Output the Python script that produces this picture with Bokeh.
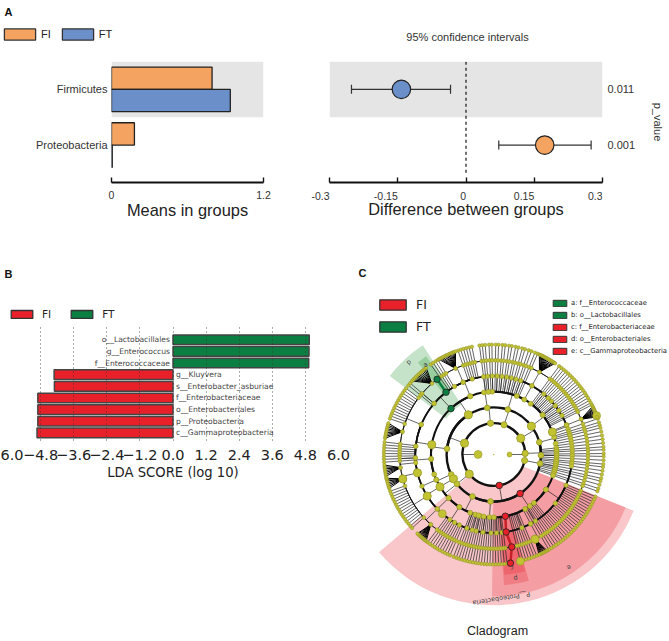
import math
from bokeh.embed import file_html
from bokeh.resources import INLINE
from bokeh.models import (ColumnDataSource, FixedTicker, Label, Legend, LegendItem,
                          Range1d, TeeHead, Whisker)
from bokeh.plotting import figure
from bokeh.core.properties import value

# ---------- Panel A data ----------
phyla = ["Proteobacteria", "Firmicutes"]
mean_fi = [0.181, 0.794]
mean_ft = [0.006, 0.938]
diff_mean = [0.173, -0.142]
diff_low = [0.072, -0.2517]
diff_high = [0.275, -0.034]
p_values = ["0.001", "0.011"]
mean_ticks = [0, 1.2]
mean_tick_labels = ["0", "1.2"]
diff_ticks = [-0.3, -0.15, 0, 0.15, 0.3]
diff_tick_labels = ["-0.3", "-0.15", "0", "0.15", "0.3"]

# ---------- Panel B data ----------
lda_names = ["o__Lactobacillales", "g__Enterococcus", "f__Enterococcaceae", "g__Kluyvera",
             "s__Enterobacter_asburiae", "f__Enterobacteriaceae", "o__Enterobacteriales",
             "p__Proteobacteria", "c__Gammaproteobacteria"]
lda_scores = [4.94, 4.93, 4.92, -4.31, -4.30, -4.90, -4.90, -4.90, -4.93]
lda_ticks = [-6.0, -4.8, -3.6, -2.4, -1.2, 0.0, 1.2, 2.4, 3.6, 4.8, 6.0]
lda_tick_labels = ["6.0", "\u22124.8", "\u22123.6", "\u22122.4", "\u22121.2", "0.0", "1.2", "2.4", "3.6", "4.8", "6.0"]

# ---------- Panel C data: (parent level, parent angle, child angles) in degrees ----------
branches = [
    (1, 180, [2, 31, 71, 96, 159, 218.6, 280, 349]), (1, 0, [2]),
    (2, 2, [15, -1]), (2, 349, [349]), (2, 31, [37]), (2, 71, [72.7]), (2, 96, [98]),
    (2, 159, [173, 122.7]), (2, 218.6, [205, 211, 218.6]), (2, 280, [243, 266, 304]),
    (3, 15, [16, 10]), (3, -1, [-6.4, 3]), (3, 349, [345, 351]),
    (3, 37, [54, 39, 21]), (3, 72.7, [91.5, 68.6, 61]), (3, 98, [99, 95]),
    (3, 122.7, [133, 112]), (3, 173, [171, 184, 198.4]), (3, 205, [203.8]), (3, 211, [211]),
    (3, 218.6, [224, 236.7]), (3, 243, [248, 253, 257, 260.8]), (3, 266, [256, 266, 270]),
    (3, 304, [280.6, 300, 305, 309.7, 326]),
    (4, 326, [337, 321.6]), (4, 112, [120, 113, 106]), (4, 133, [127.5, 139.5]),
    (4, 171, [157.6, 174]), (4, 184, [174, 182.5, 193.5]), (4, 203.8, [203.8]), (4, 211, [212]),
    (4, 224, [224]), (4, 236.7, [229, 236, 240, 244]), (4, 39, [42.8, 29.7]), (4, 21, [14, 22]),
    (5, 212, [222, 199.5]), (5, 193.5, [195]), (5, 182.5, [180.6]), (5, 157.6, [161, 143, 166]),
    (5, 139.5, [140]), (5, 113, [114]), (5, 61, [61]), (5, 224, [228]), (5, 298, [296]),
    (5, 22, [22]), (5, 186, [188]),
]
chains = [
    ((4, 6, 7), [97.5, 96, 94.5, 92.5, 91, 89, 87.5, 85.5, 84, 82, 80.5, 78.5, 77, 75, 73.5, 71.5, 70, 68, 66.5]),
    ((4, 5), [97.5, 94.5, 91, 87.5, 84, 80.5, 77, 73.5, 70]),
    ((4, 5), [61, 22, 298]),
    ((4, 6, 7), [53.5, 52, 50.5, 49, 47.5, 46, 44.5, 43, 41.5, 40, 38.5, 37, 35.5, 34, 32.5, 31, 29.5, 28, 26.8]),
    ((4, 5), [50.5, 46, 38.5, 34]),
    ((4, 5, 6, 7), [19, 17, 15.5, 14, 12, 10, 8]),
    ((3, 4, 5, 6, 7), [6, 4, 2.5, 0.5, -1, -3, -5, -6.5, -8.5]),
    ((3, 4, 6, 7), [-10.5, -12.5, -14, -16, -18, -19.5]),
    ((5, 6, 7), [337.5, 336, 334.5, 333, 331.5, 330, 328.5, 327, 325.5, 324, 322.5, 321, 319.5, 318, 316.5, 315, 313.5, 312]),
    ((4, 6, 7), [310.5, 309, 307.5, 306, 304.5, 303, 301.5, 300]),
    ((4, 6, 7), [293, 291.5, 290, 288.5, 287, 285.5, 284]),
    ((4, 5), [302, 291]),
    ((4, 6, 7), [277, 275.5, 274, 272.5, 271, 269.5, 268, 266.5, 265, 263.5, 262, 260.5, 259, 257.5, 256, 254.5, 253, 251.5, 250, 248.5]),
    ((4, 5), [276, 272, 268, 262, 257, 254, 250]),
    ((5, 6, 7), [246.5, 245, 243.5, 242, 240.5, 239, 237.5, 236, 234.5, 233]),
    ((6, 7), [222, 220.5, 219, 217.5, 216, 214.5, 213, 211.5, 210, 208.5, 207, 205.5, 204, 202.5, 201, 199.5]),
    ((5, 6, 7), [184, 182.5, 181, 179.5, 178, 176.5, 175, 173.5]),
    ((6, 7), [161, 159.5, 158, 156.5, 155, 153.5, 152, 150.5, 149, 147.5, 146, 144.5, 143]),
    ((5, 6, 7), [141, 139.5, 125, 123.5, 122, 120.5, 109, 107.5, 106, 104.5, 103, 101.5]),
]
fans = [
    (6, 61, [65.5, 64.8, 64, 63.3, 62.6, 61.9, 61.2, 60.5, 59.8, 59, 58.3, 57.5, 56.8, 56.1]),
    (6, 22, [26, 25.3, 24.6, 24, 23.3, 22.6, 22, 21.3, 20.7, 20]),
    (6, 296, [299, 298.3, 297.6, 297, 296.3, 295.6, 295, 294.3]),
    (6, 228, [232, 231.3, 230.6, 230, 229.3, 228.6, 228, 227.3, 226.6, 226]),
    (6, 195, [198, 197, 196, 195, 194, 193, 192.5]),
    (6, 188, [191.5, 190.5, 189.5, 188.5, 187.5, 186.5, 185.5]),
    (6, 166, [171.5, 170.5, 169.5, 168.5, 167.5, 166.5, 165.5, 164.5, 163.5]),
    (6, 131, [138, 137, 136, 135, 134, 133, 132, 131, 130, 129, 128]),
    (6, 114, [120, 119.2, 118.4, 117.6, 116.8, 116, 115.2, 114.4, 113.6, 112.8, 112, 111.2, 110.4]),
]
large_nodes = [(1, 180), (2, 159), (2, 218.6), (2, 31), (3, 122.7), (3, 37), (3, 211), (4, 171), (4, 21),
               (4, 211), (5, 193.5), (5, 212), (5, 229), (6, 195), (6, 296), (7, 284), (7, 20.7)]
red_levels = [2, 3, 4, 5, 6, 7]
red_angles = [280, 304, 280.6, 279, 281, 278.7]
green_levels = [4, 5, 6]
green_angles = [133, 127.5, 127]
clades = [
    ("p__Proteobacteria", "#E8202A", 220.4, 338.1, 2.0, 9.6),
    ("e", "#E8202A", 269.3, 338.1, 3.0, 9.05),
    ("d", "#E8202A", 274.5, 285.5, 3.9, 8.35),
    ("c", "#E8202A", 275, 285, 4.9, 7.7),
    ("b", "#178F23", 123, 143, 3.8, 8.3),
    ("a", "#178F23", 124.5, 129.5, 4.9, 7.6),
]
clade_tags = [("P__Proteobacteria", 273, 9.17, 189), ("e", 303.7, 8.66, 213), ("p", 280, 8.0, 190),
              ("c", 279, 7.3, 190), ("p", 132.6, 8.0, 42), ("a", 127.3, 7.2, 37)]
clade_legend = [("a: f__Enterococcaceae", "#0B7F42"), ("b: o__Lactobacillales", "#0B7F42"),
                ("c: f__Enterobacteriaceae", "#E8202A"), ("d: o__Enterobacteriales", "#E8202A"),
                ("e: c__Gammaproteobacteria", "#E8202A")]

ORANGE, BLUE = "#F4A460", "#6A8FC9"
RED, GREEN = "#E8202A", "#0B7F42"
SANS, DEJA = "Liberation Sans", "DejaVu Sans"
INK = "#222222"


def base(left_px, top_px, width, height, left, right, top, bottom, xr, yr, **kw):
    p = figure(width=width, height=height, x_range=xr, y_range=yr, output_backend="svg", toolbar_location=None,
               min_border_left=left, min_border_right=right, min_border_top=top, min_border_bottom=bottom, **kw)
    p.outline_line_color = None
    p.grid.visible = False
    p.background_fill_color = None
    p.border_fill_color = None
    p.styles = {"position": "absolute", "left": f"{left_px}px", "top": f"{top_px}px"}
    return p


def blank(left_px, top_px, width, height):
    p = base(left_px, top_px, width, height, 0, 0, 0, 0, Range1d(0, 1), Range1d(0, 1))
    p.xaxis.visible = False
    p.yaxis.visible = False
    return p


def style_x(axis, ticks, labels, title):
    axis.ticker = FixedTicker(ticks=ticks)
    axis.major_label_overrides = dict(zip(ticks, labels))
    axis.axis_label = title
    axis.axis_label_text_font = SANS
    axis.axis_label_text_font_style = "normal"
    axis.axis_label_text_font_size = "16.4px"
    axis.axis_label_text_color = INK
    axis.axis_label_standoff = -1
    axis.major_label_text_font = SANS
    axis.major_label_text_font_size = "10.5px"
    axis.major_label_text_color = "#333333"
    axis.major_label_standoff = 8
    axis.axis_line_width = 2
    axis.axis_line_color = "#111111"
    axis.major_tick_line_width = 1.4
    axis.major_tick_line_color = "#111111"
    axis.major_tick_in = 5
    axis.major_tick_out = 0
    axis.minor_tick_line_color = None


def style_y(axis, ticks, labels, standoff):
    axis.ticker = FixedTicker(ticks=ticks)
    axis.major_label_overrides = dict(zip(ticks, labels))
    axis.major_label_text_font = SANS
    axis.major_label_text_font_size = "11px"
    axis.major_label_text_color = "#333333"
    axis.major_label_standoff = standoff
    axis.axis_line_color = None
    axis.major_tick_line_color = None
    axis.minor_tick_line_color = None
    axis.major_tick_in = 0
    axis.major_tick_out = 0


def swatch_legend(p, items, x, y, orientation, gw, gh, size, font, standoff, spacing, label_h=None):
    leg = Legend(items=[LegendItem(label=value(t), renderers=[r]) for t, r in items], location=(x, y),
                 orientation=orientation, glyph_width=gw, glyph_height=gh, label_text_font_size=size,
                 label_text_font=font, label_standoff=standoff, spacing=spacing, padding=0, margin=0,
                 background_fill_alpha=0, border_line_color=None, label_text_color=INK,
                 label_height=label_h or gh, label_width=4, click_policy="none")
    p.add_layout(leg, "center")


def swatch(p, col, w=1.3):
    # a key-only rectangle, lying far outside the visible range
    return p.rect(x=[1e4], y=[1e4], width=1, height=1, fill_color=col, line_color="#333333", line_width=w)


def letter(p, text, x, y):
    p.add_layout(Label(x=x, y=y, x_units="screen", y_units="screen", text=text, text_font=SANS,
                       text_font_size="11px", text_font_style="bold", text_color="#111111",
                       text_baseline="middle"))


# ---------- A header ----------
head_a = blank(0, 0, 669, 61)
swatch_legend(head_a, [("FI", swatch(head_a, ORANGE)), ("FT", swatch(head_a, BLUE))], 0, 20, "horizontal", 39, 14, "11px", SANS, 2, 7)
letter(head_a, "A", 4, 50)
head_a.add_layout(Label(x=467, y=25, x_units="screen", y_units="screen", text="95% confidence intervals", text_font=SANS,
                        text_font_size="11px", text_color="#333333", text_align="center", text_baseline="middle"))

# ---------- A left ----------
rows_a = list(range(len(phyla)))
a1 = base(0, 61, 320, 171, 111, 57, 0, 50, Range1d(0, 1.2), Range1d(-0.673, 1.5))
a1.hbar(y=[rows_a[1]], height=1, left=[mean_ticks[0]], right=[mean_ticks[1]], fill_color="#E5E5E5", line_color=None)
a1.hbar(y=[i + 0.2 for i in rows_a], height=0.4, left=0, right=mean_fi, fill_color=ORANGE, line_color=INK, line_width=1.3)
a1.hbar(y=[i - 0.2 for i in rows_a], height=0.4, left=0, right=mean_ft, fill_color=BLUE, line_color=INK, line_width=1.3)
style_x(a1.xaxis[0], mean_ticks, mean_tick_labels, "Means in groups")
style_y(a1.yaxis[0], rows_a, phyla, 4)

# ---------- A right ----------
a2 = base(320, 61, 349, 171, 9, 67, 0, 50, Range1d(-0.3, 0.3), Range1d(-0.673, 1.5), y_axis_location="right")
a2.hbar(y=[rows_a[1]], height=1, left=[diff_ticks[0]], right=[diff_ticks[-1]], fill_color="#E5E5E5", line_color=None, level="image")
a2.segment(x0=[0], x1=[0], y0=[-0.5], y1=[1.5], line_color="#111111", line_width=1.2, line_dash="3 3")
wsrc = ColumnDataSource(dict(y=rows_a, lo=diff_low, hi=diff_high))
a2.add_layout(Whisker(base="y", lower="lo", upper="hi", dimension="width", source=wsrc, line_color="#333333", line_width=1.2,
                      level="underlay",
                      upper_head=TeeHead(size=9, line_color="#333333", line_width=1.2),
                      lower_head=TeeHead(size=9, line_color="#333333", line_width=1.2)))
a2.scatter(x=diff_mean, y=rows_a, size=18.5, fill_color=[ORANGE, BLUE], line_color=INK, line_width=1.2)
style_x(a2.xaxis[0], diff_ticks, [""] * len(diff_ticks), "Difference between groups")
a2.xaxis[0].major_label_standoff = 0
a2.xaxis[0].axis_label_standoff = 17
yb = a2.yaxis[0]
style_y(yb, rows_a, p_values, 5)
yb.axis_label = "p_value"
yb.axis_label_text_font = SANS
yb.axis_label_text_font_style = "normal"
yb.axis_label_text_font_size = "11px"
yb.axis_label_text_color = "#333333"
yb.axis_label_standoff = 14

# tick labels of the right-hand axis: they stand to the left of their ticks in the reference
foot = base(300, 186, 369, 18, 0, 67, 0, 0, Range1d(-0.3 - 29 / 455, 0.3), Range1d(0, 1))
foot.xaxis.visible = False
foot.yaxis.visible = False
foot.text(x=diff_ticks, y=[0.5] * len(diff_ticks), text=diff_tick_labels, text_align="right", text_baseline="middle",
          text_font=value(SANS), text_font_size="10.5px", text_color="#333333")

# ---------- B ----------
head_b = blank(0, 232, 355, 95)
swatch_legend(head_b, [("FI", swatch(head_b, RED)), ("FT", swatch(head_b, GREEN))], 8, 7, "horizontal", 27, 10, "10.5px", DEJA, 7, 17)
letter(head_b, "B", 4, 54)

b = base(0, 327, 355, 314, 7, 17, 0, 198, Range1d(-6, 6), Range1d(8.91, -1.05))
lda_left = [min(v, 0) for v in lda_scores]
lda_right = [max(v, 0) for v in lda_scores]
is_fi = [i for i, v in enumerate(lda_scores) if v < 0]
is_ft = [i for i, v in enumerate(lda_scores) if v > 0]
b.hbar(y=is_fi, height=0.83, left=[lda_left[i] for i in is_fi], right=[lda_right[i] for i in is_fi],
       fill_color=RED, line_color="#444444", line_width=1.5)
b.hbar(y=is_ft, height=0.83, left=[lda_left[i] for i in is_ft], right=[lda_right[i] for i in is_ft],
       fill_color=GREEN, line_color="#444444", line_width=1.5)
b.text(x=[0] * len(is_ft), y=is_ft, text=[lda_names[i] for i in is_ft], x_offset=-3, text_align="right",
       text_baseline="middle", text_font=value(DEJA), text_font_size="7.6px", text_color="#444444")
b.text(x=[0] * len(is_fi), y=is_fi, text=[lda_names[i] for i in is_fi], x_offset=3, text_align="left",
       text_baseline="middle", text_font=value(DEJA), text_font_size="7.6px", text_color="#444444")
xb = b.xaxis[0]
xb.ticker = FixedTicker(ticks=lda_ticks)
xb.major_label_overrides = dict(zip(lda_ticks, lda_tick_labels))
xb.major_label_text_font = DEJA
xb.major_label_text_font_size = "14.5px"
xb.major_label_text_color = INK
xb.major_label_standoff = 0
xb.axis_line_color = None
xb.major_tick_line_color = None
xb.minor_tick_line_color = None
xb.axis_label = "LDA SCORE (log 10)"
xb.axis_label_text_font = DEJA
xb.axis_label_text_font_style = "normal"
xb.axis_label_text_font_size = "13.2px"
xb.axis_label_text_color = INK
xb.axis_label_standoff = 2
b.yaxis.visible = False
b.xgrid.visible = True
b.xgrid.ticker = FixedTicker(ticks=lda_ticks)
b.xgrid.grid_line_color = "#333333"
b.xgrid.grid_line_dash = "1 3"
b.xgrid.level = "overlay"
b.xgrid.grid_line_alpha = 0.8

# ---------- C ----------
PX = 15.7
c = base(355, 232, 314, 409, 0, 0, 0, 0, Range1d(-138.3 / PX, 175.7 / PX), Range1d(-187 / PX, 222 / PX))
c.xaxis.visible = False
c.yaxis.visible = False


def polar(level, deg):
    return level * math.cos(math.radians(deg)), level * math.sin(math.radians(deg))


for name, col, a0, a1_, r0, r1 in clades:
    c.annular_wedge(x=0, y=0, inner_radius=r0, outer_radius=r1, start_angle=math.radians(a0), end_angle=math.radians(a1_),
                    fill_color=col, fill_alpha=0.25, line_color=None)

seg = {"x0": [], "y0": [], "x1": [], "y1": []}
fan_seg = {"x0": [], "y0": [], "x1": [], "y1": []}
node = {"x": [], "y": [], "s": []}
big = set(large_nodes)
node_size = {1: 5, 2: 6, 3: 5.5, 4: 5, 5: 4.5, 6: 3.8, 7: 3.4}


def add_seg(store, l0, d0, l1, d1):
    x0, y0 = polar(l0, d0)
    x1, y1 = polar(l1, d1)
    store["x0"].append(x0); store["y0"].append(y0); store["x1"].append(x1); store["y1"].append(y1)


def add_node(l, d):
    x, y = polar(l, d)
    node["x"].append(x); node["y"].append(y)
    node["s"].append(8 if (l, d) in big else node_size[l])


arc = {"r": [], "a0": [], "a1": [], "w": []}
arc_width = {2: 2.4, 3: 2.4, 4: 2.0, 5: 1.6, 6: 0.8, 7: 0.7}
for lev, ang, kids in branches:
    add_seg(seg, lev, ang, lev + 1, ang)
    arc["r"].append(lev + 1)
    arc["a0"].append(math.radians(min(kids + [ang])))
    arc["a1"].append(math.radians(max(kids + [ang])))
    arc["w"].append(arc_width[lev + 1])
    add_node(lev, ang)
    for k in kids:
        add_node(lev + 1, k)
for levels, angs in chains:
    for d in angs:
        add_seg(seg, levels[0], d, levels[-1], d)
        for l in levels[1:]:
            add_node(l, d)
for lev, ang, kids in fans:
    add_node(lev, ang)
    for k in kids:
        add_seg(fan_seg, lev, ang, lev + 1, k)
        add_node(lev + 1, k)

c.segment(x0="x0", y0="y0", x1="x1", y1="y1", source=ColumnDataSource(seg), line_color="#222222", line_width=0.7)
c.segment(x0="x0", y0="y0", x1="x1", y1="y1", source=ColumnDataSource(fan_seg), line_color="#000000", line_width=1.0)
c.arc(x=0, y=0, radius="r", start_angle="a0", end_angle="a1", line_width="w", line_color="#111111", source=ColumnDataSource(arc))
c.scatter(x="x", y="y", size="s", source=ColumnDataSource(node), fill_color="#C2C332", line_color="#8F8E28", line_width=0.5)
c.scatter(x=[0], y=[0], size=1.5, fill_color="#BDBB2F", line_color=None)

rp = [polar(l, d) for l, d in zip(red_levels, red_angles)]
gp = [polar(l, d) for l, d in zip(green_levels, green_angles)]
c.line(x=[p[0] for p in rp[2:]], y=[p[1] for p in rp[2:]], line_color="#C81E26", line_width=2.5)
c.line(x=[p[0] for p in gp[1:]], y=[p[1] for p in gp[1:]], line_color=GREEN, line_width=2.5)
c.scatter(x=[p[0] for p in rp], y=[p[1] for p in rp], size=6.5, fill_color=RED, line_color=INK, line_width=0.8)
c.scatter(x=[p[0] for p in gp], y=[p[1] for p in gp], size=6.5, fill_color=GREEN, line_color=INK, line_width=0.8)

for t, d, r, rot in clade_tags:
    x, y = polar(r, d)
    c.text(x=[x], y=[y], text=[t], angle=math.radians(rot), text_align="center", text_baseline="middle",
           text_font=value(DEJA), text_font_size="6.5px", text_color="#444444")

swatch_legend(c, [("FI", swatch(c, RED)), ("FT", swatch(c, GREEN))], 21, 307, "vertical", 33, 13, "12.5px", DEJA, 7, 7)
leg_r = [swatch(c, col, 1) for _, col in clade_legend]
swatch_legend(c, [(t, r) for (t, _), r in zip(clade_legend, leg_r)], 196, 286, "vertical", 17, 8, "6.8px", DEJA, 3, 4)
letter(c, "C", 3, 369)
c.add_layout(Label(x=142, y=11, x_units="screen", y_units="screen", text="Cladogram", text_font=SANS, text_font_size="12.5px",
                   text_color=INK, text_align="center", text_baseline="middle"))

open("out.html", "w").write(file_html([head_a, a1, a2, foot, head_b, b, c], INLINE))
